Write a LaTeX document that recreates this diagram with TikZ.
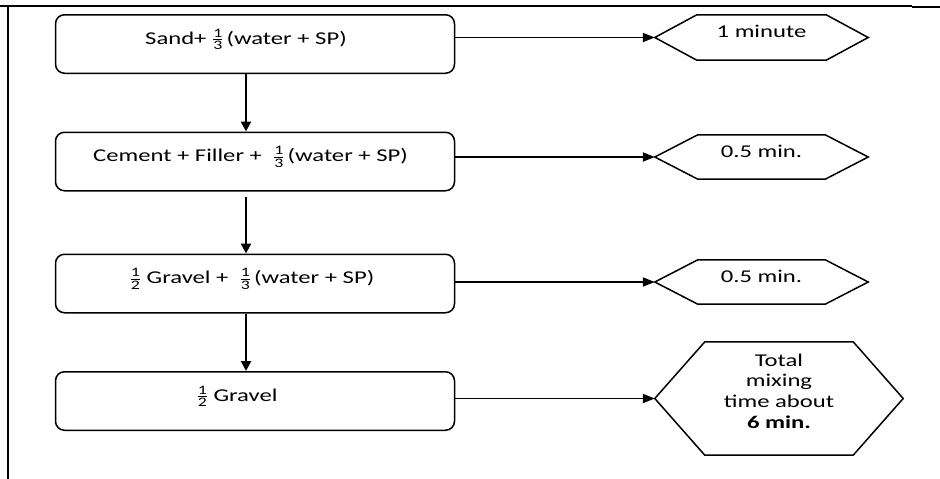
\documentclass[tikz,border=0pt]{standalone}
\usepackage{fontspec}
\setmainfont{Carlito}[FakeStretch=1.37]
\usetikzlibrary{arrows.meta}
\newcommand\fr[2]{$\frac{\hbox{\fontsize{13}{13}\selectfont #1}}{\hbox{\fontsize{13}{13}\selectfont #2}}$}
\newcommand\hexline[2]{\draw[hexl] (#1.west) -- ([xshift=#2]#1.north west) -- ([xshift=-#2]#1.north east) -- (#1.east) -- ([xshift=-#2]#1.south east) -- ([xshift=#2]#1.south west) -- cycle;}
\begin{document}
\begin{tikzpicture}[x=1pt,y=-1pt,
  lbl/.style={font=\fontsize{18}{20.7}\selectfont},
  boxn/.style={lbl,draw,line width=1.5pt,rounded corners=9pt,minimum width=399pt,minimum height=58.5pt,inner sep=0pt,text height=12pt,text depth=12pt},
  hexn/.style={lbl,inner sep=0pt,text height=12pt,text depth=12pt},
  hexl/.style={line width=1.5pt,line join=miter},
  varr/.style={line width=2.6pt,-{Triangle[length=10pt,width=10pt]}},
  harr/.style={line width=1.9pt,-{Triangle[length=12pt,width=9pt]}},
  frameline/.style={line width=1.5pt},
  framethick/.style={line width=2.3pt}]
\useasboundingbox (0,0) rectangle (940,479);
% frame
\draw[frameline] (47,6) -- (912,6);
\draw[framethick] (0,6.2) -- (47,6.2);
\draw[framethick] (912,6.8) -- (940,6.8);
\draw[framethick] (7.8,5) -- (7.8,479);
% boxes
\node[boxn] (b1) at (255,44) {Sand+ \fr13\,(water + SP)\hspace*{18pt}};
\node[boxn] (b2) at (255,161.5) {Cement + Filler +\ \ \fr13\,(water + SP)\hspace*{9pt}};
\node[boxn] (b3) at (255,283.5) {\fr12 Gravel +\ \ \fr13\,(water + SP)\hspace*{6pt}};
\node[boxn] (b4) at (255,401) {\fr12 Gravel\hspace*{36pt}};
% hexagons
\node[hexn,minimum width=213pt,minimum height=45pt] (h1) at (761.5,37.5) {1 minute};
\node[hexn,minimum width=213pt,minimum height=44pt] (h2) at (761.5,157) {0.5 min.};
\node[hexn,minimum width=213pt,minimum height=44pt] (h3) at (761.5,282) {0.5 min.};
\node[hexn,minimum width=248pt,minimum height=113pt] (h4) at (779,398.5) {};
\node[lbl,align=center,inner sep=0pt,anchor=north] (t4) at (779,353.5) {Total\\mixing\\time about\\\textbf{6 min.}};
\hexline{h1}{42pt}
\hexline{h2}{43pt}
\hexline{h3}{43pt}
\hexline{h4}{50pt}
% connectors
\draw[varr] ([xshift=-9pt]b1.south) -- ([xshift=-9pt]b2.north);
\draw[varr,shorten <=5pt] ([xshift=-9pt]b2.south) -- ([xshift=-9pt]b3.north);
\draw[varr] ([xshift=-9pt]b3.south) -- ([xshift=-9pt]b4.north);
\draw[harr] (b1.east |- h1.west) -- (h1.west);
\draw[harr] (b2.east |- h2.west) -- (h2.west);
\draw[harr] (b3.east |- h3.west) -- (h3.west);
\draw[harr] (b4.east |- h4.west) -- (h4.west);
\end{tikzpicture}
\end{document}
